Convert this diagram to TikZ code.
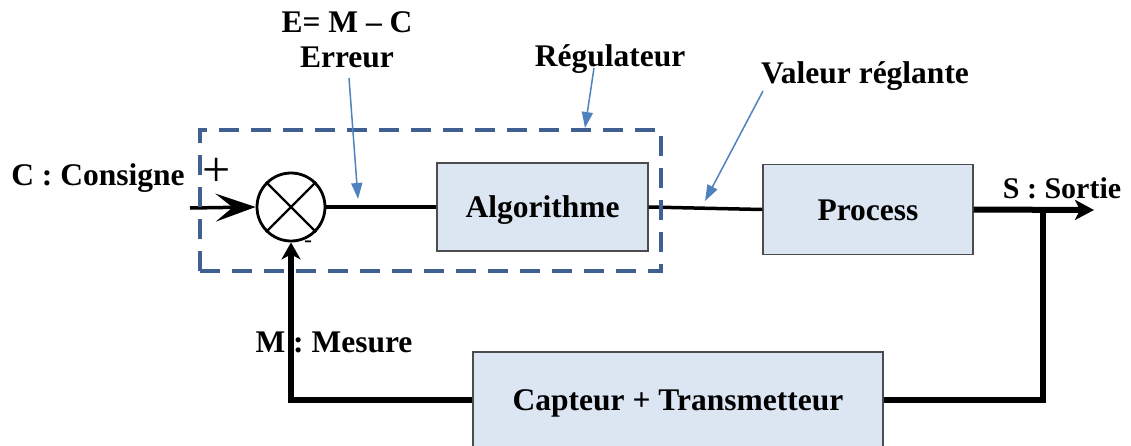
\documentclass[tikz,border=0pt]{standalone}
\usepackage{fontspec}
\setmainfont{Liberation Serif}
\usetikzlibrary{arrows.meta}
\definecolor{boxfill}{HTML}{DCE6F2}
\definecolor{dashblue}{HTML}{3F6090}
\definecolor{arrowblue}{HTML}{4F81BD}
\begin{document}
\begin{tikzpicture}[x=1pt,y=-1pt,
  lbl/.style={font=\fontsize{31.5}{36}\selectfont\bfseries, inner sep=0pt, anchor=base},
  block/.style={draw=black!70, line width=1.3pt, fill=boxfill, inner sep=0pt,
    font=\fontsize{31.5}{36}\selectfont\bfseries, text height=21pt, text depth=0pt},
  sig/.style={line width=3.5pt},
  thicksig/.style={line width=6pt},
  note/.style={draw=arrowblue, line width=1.5pt, -{Triangle[length=16pt,width=11pt]}}]
\useasboundingbox (0,0) rectangle (1131,445);

% blocks
\node[block, minimum width=211pt, minimum height=88pt] (alg) at (542.5,207) {Algorithme};
\node[block, minimum width=210pt, minimum height=90pt] (proc) at (868,209.5) {Process};
\node[block, minimum width=410pt, minimum height=96pt] (capt) at (678,400) {Capteur + Transmetteur};

% summing junction
\node[circle, draw, line width=2.8pt, minimum size=68pt, inner sep=0pt] (sum) at (291,207) {};
\draw[line width=2.3pt] (sum.north east) -- (sum.south west) (sum.north west) -- (sum.south east);

% labels
\node[lbl] (cons) at (98,185) {C : Consigne};
\node[lbl] (eq) at (347,32) {E= M – C};
\node[lbl] (err) at (347,67) {Erreur};
\node[lbl] (regl) at (610,66) {Régulateur};
\node[lbl] (val) at (865,83) {Valeur réglante};
\node[lbl, font=\fontsize{30}{34}\selectfont\bfseries] (sortie) at (1062,198) {S : Sortie};
\node[lbl] (mes) at (334,352) {M : Mesure};
\node[font=\fontsize{50}{54}\selectfont, inner sep=0pt] (plus) at (217,172) {+};
\node[font=\fontsize{24}{26}\selectfont, inner sep=0pt] (minus) at (308,244) {-};

% coordinates
\coordinate (cin) at (190,208);
\coordinate (sout) at (1094,210);
\coordinate (br) at (1043,210);
\coordinate (errfrom) at (349,78);
\coordinate (errto) at (358,199);
\coordinate (regfrom) at (594,68);
\coordinate (regto) at (585,128);
\coordinate (valfrom) at (763,91);
\coordinate (valto) at (705,201);

% signal lines
\draw[sig, -{Stealth[length=40pt,width=28pt,inset=17pt]}] (cin) -- (sum.west);
\draw[sig] (sum.east) -- (alg.west);
\draw[sig] (alg.east) -- (proc.west);
\draw[thicksig, -{Stealth[length=19pt,width=20pt,inset=5pt]}] (proc.east) -- (sout);
\draw[thicksig] (br) |- (capt.east);
\draw[thicksig, -{Stealth[length=17pt,width=19pt,inset=5pt]}] (capt.west) -| (sum.south);

% regulator dashed frame
\node[draw=dashblue, line width=4.5pt, dash pattern=on 20pt off 12pt,
  minimum width=461pt, minimum height=141pt, inner sep=0pt] (reg) at (430.5,200.5) {};

% annotation arrows
\draw[note] (errfrom) -- (errto);
\draw[note] (regfrom) -- (regto);
\draw[note] (valfrom) -- (valto);
\end{tikzpicture}
\end{document}
